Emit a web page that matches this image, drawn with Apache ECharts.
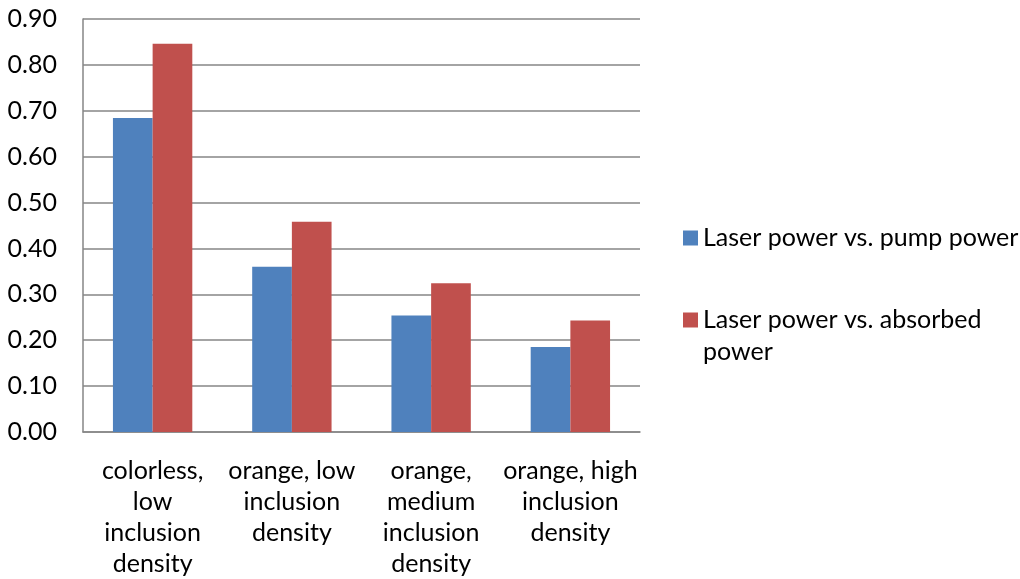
<!DOCTYPE html>
<html>
<head>
<meta charset="utf-8">
<script src="https://cdn.jsdelivr.net/npm/echarts@6/dist/echarts.min.js"></script>
<style>html,body{margin:0;padding:0;background:#fff}#c{width:1020px;height:579px}</style>
</head>
<body>
<div id="c"></div>
<script>
const categories = [
  'colorless, low inclusion density',
  'orange, low inclusion density',
  'orange, medium inclusion density',
  'orange, high inclusion density'
];
const tickLabels = [
  'colorless,\nlow\ninclusion\ndensity',
  'orange, low\ninclusion\ndensity',
  'orange,\nmedium\ninclusion\ndensity',
  'orange, high\ninclusion\ndensity'
];
const seriesNames = ['Laser power vs. pump power', 'Laser power vs. absorbed power'];
const legendLabels = ['Laser power vs. pump power', '\nLaser power vs. absorbed\npower'];
const pumpValues = [0.684, 0.360, 0.254, 0.185];
const absorbedValues = [0.846, 0.458, 0.324, 0.243];
const yTicks = { min: 0, max: 0.9, interval: 0.1 };

const FONT = 'Lato';
const FS = 25;
const chart = echarts.init(document.getElementById('c'), null, { renderer: 'canvas' });
chart.setOption({
  animation: false,
  backgroundColor: '#fff',
  textStyle: { fontFamily: FONT },
  grid: { left: 83, right: 380, top: 19, bottom: 144, containLabel: false },
  legend: [
    {
      data: [seriesNames[0]],
      left: 683, top: 222, padding: 0,
      itemWidth: 15, itemHeight: 15, icon: 'rect',
      formatter: () => legendLabels[0],
      textStyle: { fontFamily: FONT, fontSize: FS, color: '#000', lineHeight: 32 }
    },
    {
      data: [seriesNames[1]],
      left: 683, top: 272, padding: 0,
      itemWidth: 15, itemHeight: 15, icon: 'rect',
      formatter: () => legendLabels[1],
      textStyle: { fontFamily: FONT, fontSize: FS, color: '#000', lineHeight: 32 }
    }
  ],
  xAxis: {
    type: 'category',
    data: categories,
    axisLine: { lineStyle: { color: '#868686', width: 1.5 } },
    axisTick: { show: false },
    axisLabel: {
      interval: 0, margin: 23, color: '#000', fontFamily: FONT, fontSize: FS,
      lineHeight: 31, align: 'center',
      formatter: (v, i) => tickLabels[i]
    }
  },
  yAxis: {
    type: 'value',
    min: yTicks.min, max: yTicks.max, interval: yTicks.interval,
    axisLine: { show: true, lineStyle: { color: '#868686', width: 1.5 } },
    axisTick: { show: false },
    splitLine: { lineStyle: { color: '#868686', width: 1.5 } },
    axisLabel: {
      margin: 26, color: '#000', fontFamily: FONT, fontSize: FS,
      formatter: v => v.toFixed(2)
    }
  },
  series: [
    {
      name: seriesNames[0], type: 'bar', data: pumpValues,
      itemStyle: { color: '#4F81BD' },
      barGap: '0%', barCategoryGap: '43%'
    },
    {
      name: seriesNames[1], type: 'bar', data: absorbedValues,
      itemStyle: { color: '#C0504D' },
      barGap: '0%', barCategoryGap: '43%'
    }
  ]
});
</script>
</body>
</html>
